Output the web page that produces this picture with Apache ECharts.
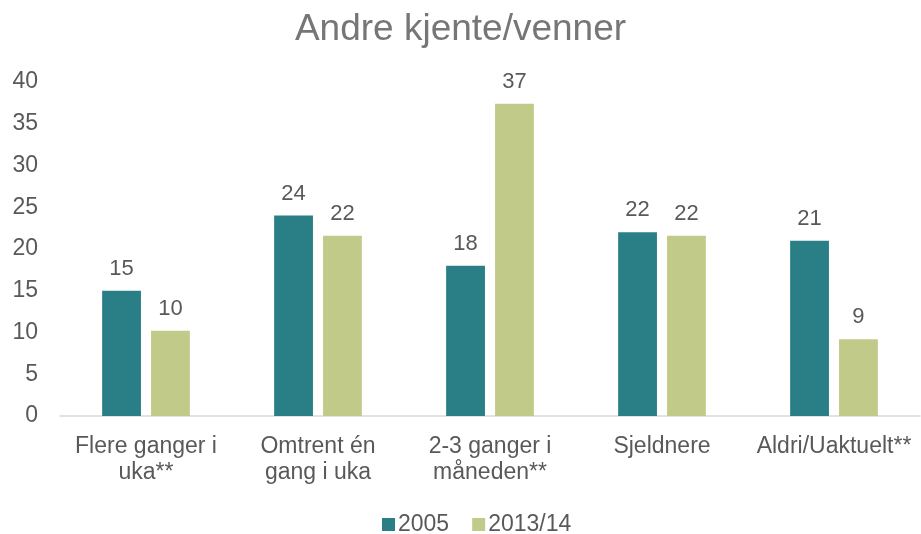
<!DOCTYPE html>
<html>
<head>
<meta charset="utf-8">
<script src="https://cdn.jsdelivr.net/npm/echarts@6/dist/echarts.min.js"></script>
<style>
  html, body { margin: 0; padding: 0; background: #fff; }
  #chart { width: 921px; height: 534px; }
</style>
</head>
<body>
<div id="chart"></div>
<script>
// Frequency of contact with other acquaintances/friends, percent
const categories = [
  'Flere ganger i\nuka**',
  'Omtrent én\ngang i uka',
  '2-3 ganger i\nmåneden**',
  'Sjeldnere',
  'Aldri/Uaktuelt**'
];
const seriesNames = ['2005', '2013/14'];
const values2005 = [15.0, 24.0, 18.0, 22.0, 21.0];
const values2013 = [10.2, 21.6, 37.4, 21.6, 9.2];
const yTicks = [0, 5, 10, 15, 20, 25, 30, 35, 40];

const fontFamily = '"Liberation Sans", Arial, sans-serif';
const textColor = '#595959';

const barLabel = {
  show: true,
  position: 'top',
  distance: 11,
  color: textColor,
  fontSize: 22,
  fontFamily: fontFamily,
  formatter: p => String(Math.round(p.value))
};

const chart = echarts.init(document.getElementById('chart'), null, { renderer: 'canvas' });
chart.setOption({
  animation: false,
  backgroundColor: '#ffffff',
  title: {
    text: 'Andre kjente/venner',
    left: 'center',
    top: 6,
    textStyle: { color: '#767676', fontSize: 37, fontWeight: 'normal', fontFamily: fontFamily }
  },
  legend: {
    top: 508,
    left: 377,
    itemWidth: 13,
    itemHeight: 13,
    itemGap: 23,
    icon: 'rect',
    textStyle: { color: textColor, fontSize: 23, fontFamily: fontFamily, padding: [0, 0, 0, -2] },
    data: seriesNames
  },
  grid: { left: 60, right: 1, top: 82, bottom: 118, containLabel: false },
  xAxis: {
    type: 'category',
    data: categories,
    axisLine: { lineStyle: { color: '#D9D9D9', width: 1.5 } },
    axisTick: { show: false },
    axisLabel: {
      color: textColor,
      fontSize: 23,
      fontFamily: fontFamily,
      margin: 18,
      lineHeight: 26,
      interval: 0,
      verticalAlign: 'top'
    }
  },
  yAxis: {
    type: 'value',
    min: yTicks[0],
    max: yTicks[yTicks.length - 1],
    interval: yTicks[1] - yTicks[0],
    splitLine: { show: false },
    axisLine: { show: false },
    axisTick: { show: false },
    axisLabel: { color: textColor, fontSize: 23, fontFamily: fontFamily, margin: 22 }
  },
  series: [
    {
      name: seriesNames[0],
      type: 'bar',
      data: values2005,
      itemStyle: { color: '#2A7F86' },
      barGap: '26%',
      barCategoryGap: '49%',
      label: barLabel
    },
    {
      name: seriesNames[1],
      type: 'bar',
      data: values2013,
      itemStyle: { color: '#C2CA89' },
      label: barLabel
    }
  ]
});
</script>
</body>
</html>
